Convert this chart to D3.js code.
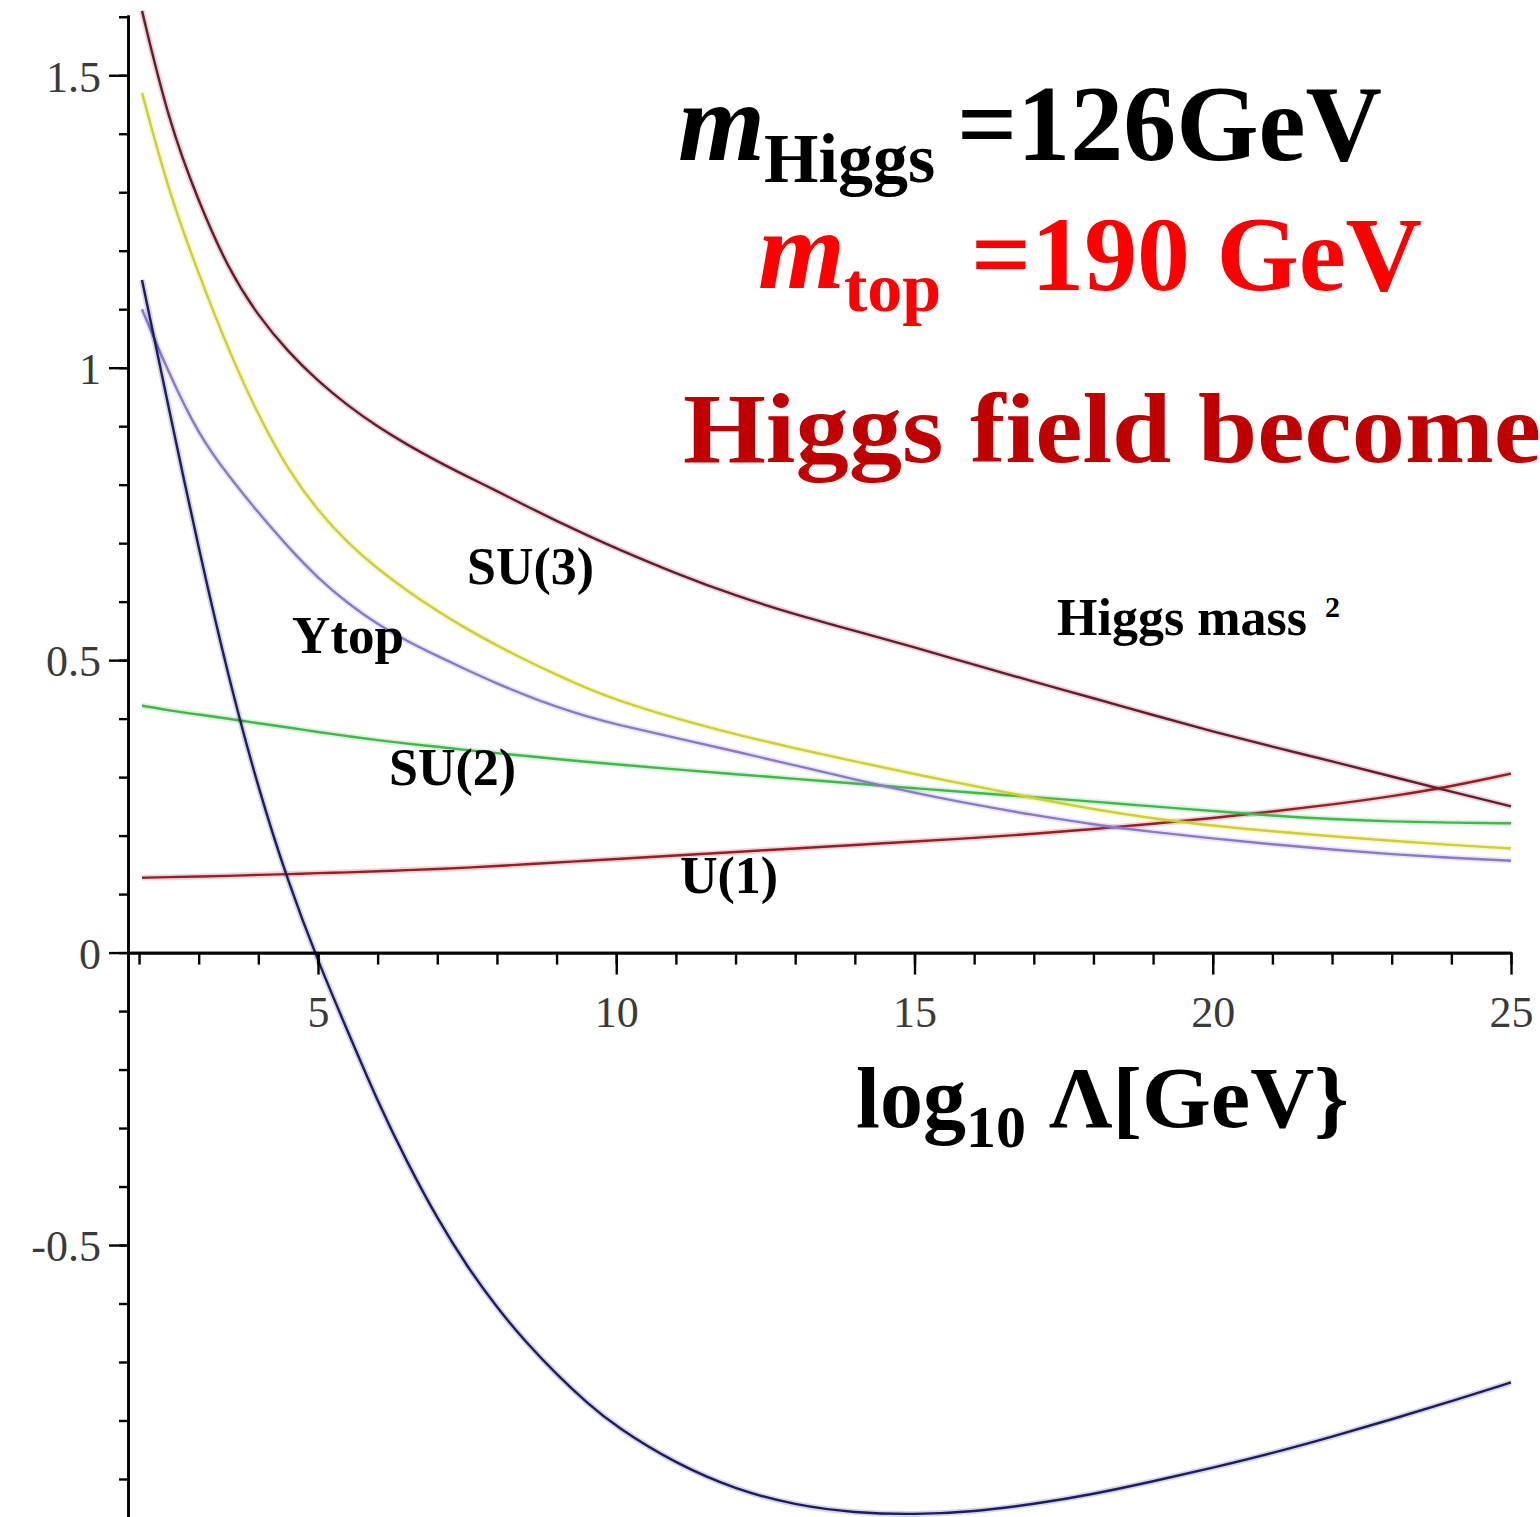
<!DOCTYPE html>
<html>
<head>
<meta charset="utf-8">
<script src="https://cdn.jsdelivr.net/npm/d3@7"></script>
<style>
  html, body { margin: 0; padding: 0; background: #fff; }
  svg { display: block; }
</style>
</head>
<body>
<svg id="chart" width="1540" height="1517"></svg>
<script>
// ---- data ----
const xs = [2.05,2.5,3,3.5,4,4.5,5,5.5,6,6.5,7,7.5,8,8.5,9,9.5,10,11,12,13,14,15,16,17,18,19,20,21,22,23,24,25];
const su3 = [1.61,1.42,1.283,1.168,1.088,1.027,0.977,0.935,0.899,0.868,0.840,0.814,0.789,0.763,0.738,0.714,0.691,0.648,0.610,0.578,0.550,0.522,0.492,0.463,0.435,0.406,0.378,0.352,0.327,0.301,0.275,0.250];
const yellowCurve = [1.47,1.30,1.16,1.03,0.918,0.825,0.755,0.700,0.656,0.618,0.584,0.553,0.525,0.499,0.475,0.452,0.432,0.400,0.373,0.349,0.327,0.305,0.285,0.264,0.245,0.229,0.217,0.207,0.199,0.191,0.184,0.178];
const ytop = [1.10,0.99,0.885,0.815,0.752,0.693,0.640,0.597,0.561,0.532,0.507,0.483,0.460,0.439,0.420,0.404,0.390,0.367,0.344,0.320,0.296,0.273,0.253,0.235,0.219,0.206,0.195,0.185,0.176,0.168,0.162,0.157];
const su2 = [0.422,0.414,0.407,0.400,0.392,0.385,0.377,0.370,0.363,0.357,0.352,0.346,0.341,0.336,0.331,0.326,0.322,0.313,0.305,0.297,0.289,0.281,0.273,0.266,0.258,0.250,0.242,0.234,0.228,0.224,0.222,0.221];
const u1 = [0.128,0.129,0.130,0.131,0.133,0.134,0.136,0.137,0.139,0.141,0.143,0.145,0.148,0.151,0.154,0.157,0.160,0.166,0.172,0.178,0.184,0.190,0.196,0.203,0.211,0.220,0.230,0.241,0.253,0.267,0.284,0.306];
const higgsMass2 = [1.15,0.93,0.69,0.47,0.28,0.12,-0.015,-0.135,-0.255,-0.36,-0.455,-0.537,-0.607,-0.668,-0.721,-0.769,-0.811,-0.874,-0.918,-0.945,-0.958,-0.961,-0.956,-0.943,-0.926,-0.904,-0.881,-0.856,-0.828,-0.798,-0.767,-0.735];

const xMajorTicks = [5,10,15,20,25];
const xMinorTicks = d3.range(2,26);
const yMajorTicks = [-0.5,0,0.5,1,1.5];
const yMinorTicks = d3.range(-9,17).map(d => d/10);
const yTickLabels = ["-0.5","0","0.5","1","1.5"];

const seriesNames = ["U(1)","SU(2)","unlabelled","Ytop","SU(3)","Higgs mass 2"];
const seriesValues = [u1, su2, yellowCurve, ytop, su3, higgsMass2];
const seriesColors = ["#9c1c24","#3fb84a","#cfcf2e","#8c78c8","#6a1a2a","#1c1c66"];

// ---- scales ----
const svg = d3.select("#chart");
const x = d3.scaleLinear().domain([1.815, 25]).range([128, 1511]);
const y = d3.scaleLinear().domain([-0.965, 1.603]).range([1517, 15]);

// ---- curves ----
const line = d3.line().x(d => x(d[0])).y(d => y(d[1])).curve(d3.curveBasis);
const gLines = svg.append("g");
seriesValues.forEach((vals, i) => {
  const pts = xs.map((xv, j) => [xv, vals[j]]);
  gLines.append("path").datum(pts).attr("d", line)
    .attr("fill","none").attr("stroke", seriesColors[i]).attr("stroke-opacity",0.18)
    .attr("stroke-width",6);
  gLines.append("path").datum(pts).attr("d", line)
    .attr("fill","none").attr("stroke", seriesColors[i])
    .attr("stroke-width",2.4).attr("stroke-linejoin","round");
});

// ---- axes ----
const tickFont = "'Liberation Serif', 'Times New Roman', serif";
const y0 = y(0);
const xMinor = svg.append("g").attr("transform",`translate(0,${y0})`)
  .call(d3.axisBottom(x).tickValues(xMinorTicks).tickSize(12).tickSizeOuter(0).tickFormat(""));
const xMajor = svg.append("g").attr("transform",`translate(0,${y0})`)
  .call(d3.axisBottom(x).tickValues(xMajorTicks).tickSize(22).tickSizeOuter(0).tickFormat(d3.format("d")));
[xMinor, xMajor].forEach(g => {
  g.select(".domain").attr("stroke","#000").attr("stroke-width",2.6);
  g.selectAll(".tick line").attr("stroke","#000").attr("stroke-width",2.4);
});
xMajor.selectAll(".tick text")
  .attr("y", 74).attr("dy", null)
  .attr("font-family", tickFont).attr("font-size", 44).attr("fill", "#3a3a3a");

const x0 = x(1.815);
const yMinor = svg.append("g").attr("transform",`translate(${x0},0)`)
  .call(d3.axisLeft(y).tickValues(yMinorTicks).tickSize(9).tickSizeOuter(0).tickFormat(""));
const yMajor = svg.append("g").attr("transform",`translate(${x0},0)`)
  .call(d3.axisLeft(y).tickValues(yMajorTicks).tickSize(19).tickSizeOuter(0)
    .tickFormat((d,i) => yTickLabels[i]));
[yMinor, yMajor].forEach(g => {
  g.select(".domain").attr("stroke","#000").attr("stroke-width",2.6);
  g.selectAll(".tick line").attr("stroke","#000").attr("stroke-width",2.4);
});
yMajor.selectAll(".tick text")
  .attr("x", -27).attr("dy", "0.36em")
  .attr("font-family", tickFont).attr("font-size", 44).attr("fill", "#3a3a3a");

// ---- curve labels ----
const serif = "'Liberation Serif', 'Times New Roman', serif";
const labels = [
  {t:"SU(3)", x:467, y:584, s:52},
  {t:"Ytop",  x:292, y:653, s:53},
  {t:"SU(2)", x:389, y:785, s:52},
  {t:"U(1)",  x:680, y:893, s:52},
  {t:"Higgs mass", x:1057, y:635, s:52}
];
labels.forEach(l => {
  svg.append("text").attr("x",l.x).attr("y",l.y).text(l.t)
    .attr("font-family",serif).attr("font-weight","bold").attr("font-size",l.s).attr("fill","#000");
});
svg.append("text").attr("x",1325).attr("y",617).text("2")
  .attr("font-family",serif).attr("font-weight","bold").attr("font-size",30).attr("fill","#000");

// ---- annotations ----
function txt(t, xp, yp, size, color, italic) {
  return svg.append("text").attr("x",xp).attr("y",yp).text(t)
    .attr("font-family",serif).attr("font-weight","bold").attr("font-size",size)
    .attr("font-style", italic ? "italic" : "normal").attr("fill",color);
}
txt("m", 678, 160, 112, "#000", true);
txt("Higgs", 764, 182, 70, "#000");
txt("=126GeV", 957, 160, 108, "#000").attr("textLength", 425).attr("lengthAdjust","spacingAndGlyphs");

txt("m", 758, 288, 112, "#ff0000", true);
txt("top", 844, 311, 70, "#ff0000");
txt("=190 GeV", 971, 290, 106, "#ff0000").attr("textLength", 451).attr("lengthAdjust","spacingAndGlyphs");

txt("Higgs field become", 683, 462, 100, "#c00000").attr("textLength", 858).attr("lengthAdjust","spacingAndGlyphs");

txt("log", 856, 1127, 86, "#000");
txt("10", 966, 1147, 60, "#000");
txt("\u039B[GeV}", 1049, 1127, 86, "#000").attr("textLength", 300).attr("lengthAdjust","spacingAndGlyphs");
</script>
</body>
</html>
